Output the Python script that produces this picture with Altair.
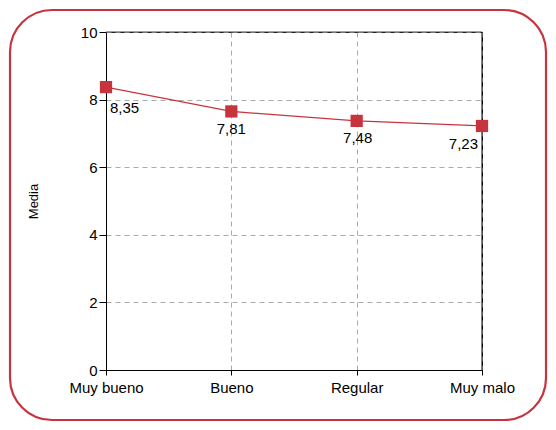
import altair as alt
import pandas as pd

categories = ["Muy bueno", "Bueno", "Regular", "Muy malo"]
values = [8.37, 7.65, 7.37, 7.22]
labels = ["8,35", "7,81", "7,48", "7,23"]

df = pd.DataFrame({"cat": categories, "val": values, "lab": labels})

RED = "#c7343e"
FONT = "Liberation Sans"

x_enc = alt.X(
    "cat:N",
    sort=categories,
    scale=alt.Scale(type="point", padding=0),
    axis=alt.Axis(
        title=None, labelAngle=0, grid=True, gridDash=[5, 4], gridColor="#aaaaaa",
        gridWidth=1, domainColor="#000000", tickColor="#000000", tickSize=5,
        labelFontSize=15, labelColor="#000000", labelFont=FONT, labelPadding=5,
    ),
)
y_enc = alt.Y(
    "val:Q",
    scale=alt.Scale(domain=[0, 10], nice=False, zero=True),
    axis=alt.Axis(
        values=[0, 2, 4, 6, 8, 10], title="Media", grid=True, gridDash=[5, 4],
        gridColor="#aaaaaa", gridWidth=1, domainColor="#000000", tickColor="#000000",
        tickSize=7, labelFontSize=15, labelColor="#000000", labelFont=FONT,
        labelPadding=2, titleFontSize=13, titleFont=FONT, titleFontWeight="normal",
        titleColor="#000000", titlePadding=40,
    ),
)

base = alt.Chart(df)
one = alt.Chart(alt.Data(values=[{}]))

frame = one.mark_rect(
    fillOpacity=0, stroke=RED, strokeWidth=2.2, cornerRadius=42, clip=False
).encode(
    x=alt.value(-96), x2=alt.value(440), y=alt.value(-22), y2=alt.value(388)
)

top_edge = one.mark_rule(color="#444444", strokeWidth=1).encode(
    x=alt.value(0), x2=alt.value(376), y=alt.value(0)
)
right_edge = one.mark_rule(color="#000000", strokeWidth=1).encode(
    x=alt.value(376), y=alt.value(0), y2=alt.value(338)
)

line = base.mark_line(color=RED, strokeWidth=1.2).encode(x=x_enc, y=y_enc)
pts = base.mark_square(size=150, color=RED, opacity=1).encode(x=x_enc, y=y_enc)

def txt(cat, align, dx, dy):
    return base.transform_filter(alt.datum.cat == cat).mark_text(
        align=align, baseline="top", dx=dx, dy=dy, fontSize=15, font=FONT, color="#000000"
    ).encode(x=x_enc, y=y_enc, text="lab:N")

texts = [
    txt("Muy bueno", "left", 4, 14),
    txt("Bueno", "center", 0, 11),
    txt("Regular", "center", 1, 10),
    txt("Muy malo", "right", -4, 11),
]

chart = alt.layer(frame, top_edge, right_edge, line, pts, *texts).properties(
    width=376, height=338,
    autosize=alt.AutoSizeParams(type="none"),
    padding={"left": 98, "top": 24, "right": 66, "bottom": 52},
).configure_view(stroke="#000000", strokeWidth=1)

chart.save("out.html", embed_options={"renderer": "svg", "actions": False})
